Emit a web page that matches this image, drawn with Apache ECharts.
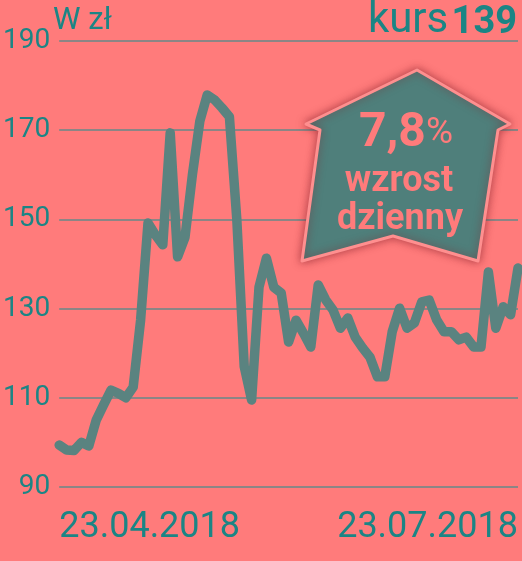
<!DOCTYPE html>
<html><head><meta charset="utf-8">
<script src="https://cdn.jsdelivr.net/npm/echarts@6/dist/echarts.min.js"></script>
<style>html,body{margin:0;padding:0;background:#ff7b7b}#c{width:522px;height:561px}</style>
</head><body><div id="c"></div>
<script>
// Daily share price (zł)
const prices = [99.4, 98.3, 98.2, 100, 99.2, 105, 108.4, 111.7, 111, 110,
  112.4, 127.4, 149.2, 146.5, 144.3, 169.4, 141.6, 146, 160, 172,
  177.9, 176.8, 175, 173, 150, 117, 109.5, 134.8, 141.3, 134.8,
  133.5, 122.5, 127.4, 124.5, 121.4, 135.3, 132, 129.7, 125.6, 127.9,
  123.6, 121.2, 119.1, 114.7, 114.7, 124.8, 130.1, 125.6, 126.8, 131.5,
  131.9, 127.5, 124.8, 124.8, 123, 123.6, 121.4, 121.4, 138.2, 125.6,
  130.4, 128.6, 139.1];
const dateLabels = ['23.04.2018', '23.07.2018'];
const yMin = 90, yMax = 190, yStep = 20;
const unitText = 'W zł';
const kursText = 'kurs', kursValue = '139';
const badgePct = '7,8', badgeLine2 = 'wzrost', badgeLine3 = 'dzienny';

const days = prices.map((_, i) => i);
const TEAL = '#1b8585', LINE = '#5a8380', BADGE = '#4f7f7b', PINK = '#ff7b7b';
const FONT = 'Roboto';

const chart = echarts.init(document.getElementById('c'), null, {renderer: 'canvas'});
chart.setOption({
  backgroundColor: PINK,
  animation: false,
  grid: {left: 56, right: 4, top: 41, bottom: 74, containLabel: false},
  xAxis: {
    type: 'category', data: days, boundaryGap: false,
    axisLine: {show: false}, axisTick: {show: false}, splitLine: {show: false},
    axisLabel: {
      interval: (i) => i === 0 || i === days.length - 1,
      formatter: (v, i) => i === 0 ? dateLabels[0] : dateLabels[1],
      alignMinLabel: 'left', alignMaxLabel: 'right',
      color: TEAL, fontSize: 36, fontFamily: FONT, margin: 23
    }
  },
  yAxis: {
    type: 'value', min: yMin, max: yMax, interval: yStep,
    axisLine: {show: false}, axisTick: {show: false},
    splitLine: {lineStyle: {color: '#8c8585', width: 2}},
    axisLabel: {color: TEAL, fontSize: 28, fontFamily: FONT, margin: 9}
  },
  series: [{
    type: 'line', data: prices, symbol: 'none', smooth: false,
    lineStyle: {color: LINE, width: 9.5, cap: 'round', join: 'round'},
    z: 3
  }],
  graphic: [
    {type: 'text', left: 53, top: 6, z: 10,
     style: {text: unitText, fill: TEAL, font: '31px ' + FONT}},
    {type: 'text', right: 5, top: 0, z: 10,
     style: {text: '{a|' + kursText + '} {b|' + kursValue + '}',
       rich: {a: {fill: TEAL, fontSize: 42, fontFamily: FONT, verticalAlign: 'bottom'},
              b: {fill: TEAL, fontSize: 38, fontFamily: FONT, fontWeight: 'bold', verticalAlign: 'bottom'}}}},
    {type: 'polygon', z: 20,
     shape: {points: [[417, 70], [510, 124], [498, 130], [478, 261], [393, 236], [302, 261], [320, 130], [306, 124]]},
     style: {fill: BADGE, stroke: '#ff8f8f', lineWidth: 3, lineJoin: 'round',
       shadowBlur: 8, shadowColor: 'rgba(130,30,40,0.6)'}},
    {type: 'text', z: 21, x: 406, y: 158,
     style: {text: '{a|' + badgePct + '}{b|%}', align: 'center', verticalAlign: 'bottom',
       rich: {a: {fill: PINK, fontSize: 48, fontWeight: 'bold', fontFamily: FONT},
              b: {fill: PINK, fontSize: 37, fontFamily: FONT}}}},
    {type: 'text', z: 21, x: 399, y: 182,
     style: {text: badgeLine2, fill: PINK, font: 'bold 36px ' + FONT, align: 'center', verticalAlign: 'middle'}},
    {type: 'text', z: 21, x: 400, y: 220,
     style: {text: badgeLine3, fill: PINK, font: 'bold 36px ' + FONT, align: 'center', verticalAlign: 'middle'}}
  ]
});
</script></body></html>
